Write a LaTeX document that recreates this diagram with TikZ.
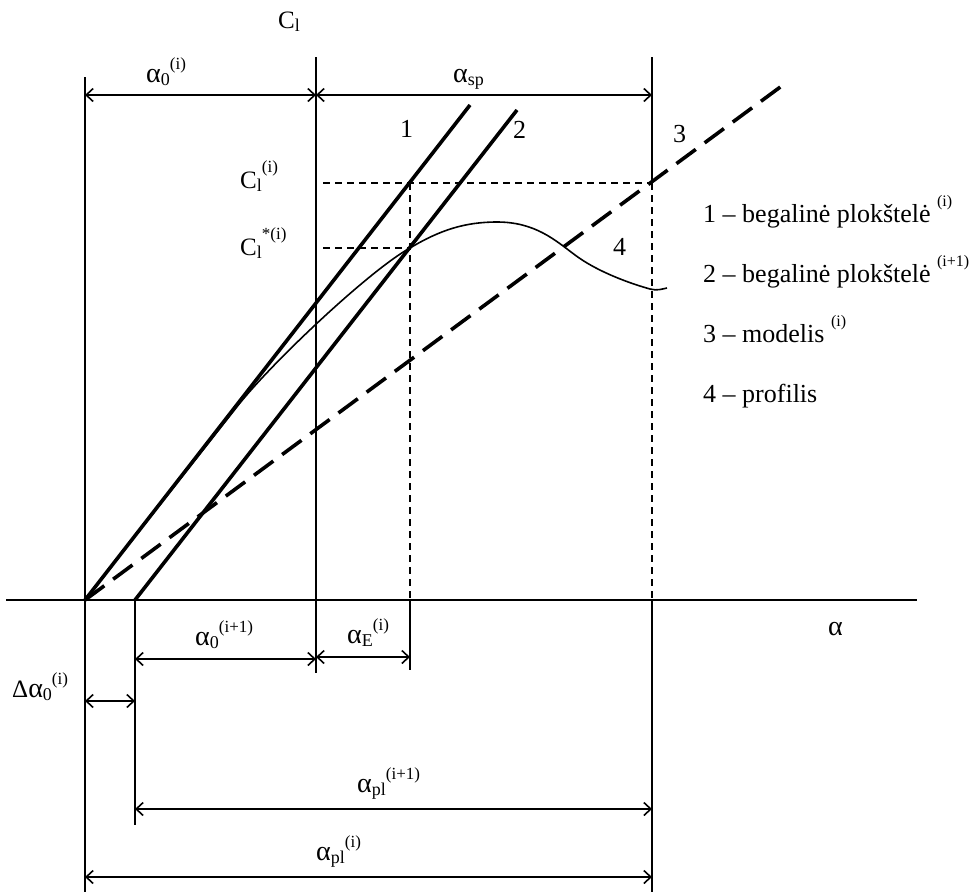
\documentclass[tikz,border=0pt]{standalone}
\usepackage{fontspec}
\setmainfont{Liberation Serif}
\usetikzlibrary{arrows.meta}
\newcommand\Al{{\fontsize{28}{28}\selectfont α}}
\newcommand\Sb[1]{\raisebox{-3.5pt}{\fontsize{18}{18}\selectfont #1}}
\newcommand\Sp[1]{\raisebox{13pt}{\fontsize{17}{17}\selectfont #1}}
\newcommand\CSp[1]{\raisebox{16pt}{\fontsize{17}{17}\selectfont #1}}
\newcommand\LSp[1]{\raisebox{0.6em}{\fontsize{16}{16}\selectfont #1}}
\begin{document}
\begin{tikzpicture}[x=1pt,y=-1pt,
  thinline/.style={line width=1.6pt},
  thickline/.style={line width=3.6pt},
  dim/.style={line width=1.6pt,{Straight Barb[length=7pt,width=13pt]}-{Straight Barb[length=7pt,width=13pt]}},
  guide/.style={line width=1.4pt,dash pattern=on 7pt off 5pt},
  model/.style={line width=3.6pt,dash pattern=on 24pt off 11pt},
  curveline/.style={line width=1.6pt},
  lbl/.style={font=\fontsize{25}{28}\selectfont, inner sep=0pt, anchor=base west},
  num/.style={font=\fontsize{26}{30}\selectfont, inner sep=0pt, anchor=base west},
]
\useasboundingbox (0,0) rectangle (979,895);
% coordinates
\coordinate (O) at (85,600);
\coordinate (O2) at (135,600);
\coordinate (axL) at (6,600);
\coordinate (axR) at (917,600);
\coordinate (v0t) at (85,77);
\coordinate (v0b) at (85,892);
\coordinate (v1t) at (316,57);
\coordinate (v1b) at (316,673);
\coordinate (v2t) at (652,57);
\coordinate (v2m) at (652,183);
\coordinate (v2a) at (652,600);
\coordinate (v2b) at (652,892);
\coordinate (vEt) at (410,183);
\coordinate (vEa) at (410,600);
\coordinate (vEb) at (410,670);
\coordinate (v3b) at (135,825);
\coordinate (l1) at (470,105);
\coordinate (l2) at (517,110);
\coordinate (l3) at (783,85);
\coordinate (hC) at (323,183);
\coordinate (hS) at (323,248);
\coordinate (pS) at (410,248);
% axes and verticals
\draw[thinline] (axL) -- (axR);
\draw[thinline] (v0t) -- (v0b);
\draw[thinline] (v1t) -- (v1b);
\draw[thinline] (v2t) -- (v2m);
\draw[guide] (v2m) -- (v2a);
\draw[thinline] (v2a) -- (v2b);
\draw[guide] (vEt) -- (vEa);
\draw[thinline] (vEa) -- (vEb);
\draw[thinline] (O2) -- (v3b);
\draw[guide] (hC) -- (v2m);
\draw[guide] (hS) -- (pS);
% lines 1,2,3
\draw[thickline] (O) -- (l1);
\draw[thickline] (O2) -- (l2);
\draw[model] (O) -- (l3);
% curve 4
\coordinate (c1) at (236,408);
\coordinate (cpk) at (497,222);
\coordinate (cin) at (575,255);
\coordinate (cmn) at (650,289);
\coordinate (cend) at (667,288);
\draw[curveline] (O) -- (c1)
  .. controls (270,364) and (370,270) .. (pS)
  .. controls (440,230) and (465,222) .. (cpk)
  .. controls (535,222) and (555,240) .. (cin)
  .. controls (595,270) and (625,282) .. (cmn)
  .. controls (657,291) and (662,289) .. (cend);
% dimension arrows
\coordinate (d1a) at (85,95); \coordinate (d1b) at (316,95); \coordinate (d1c) at (652,95);
\draw[dim] (d1a) -- (d1b);
\draw[dim] (d1b) -- (d1c);
\coordinate (d2a) at (135,659); \coordinate (d2b) at (316,659);
\draw[dim] (d2a) -- (d2b);
\coordinate (d3a) at (316,657); \coordinate (d3b) at (410,657);
\draw[dim] (d3a) -- (d3b);
\coordinate (d4a) at (85,701); \coordinate (d4b) at (135,701);
\draw[dim] (d4a) -- (d4b);
\coordinate (d5a) at (135,809); \coordinate (d5b) at (652,809);
\draw[dim] (d5a) -- (d5b);
\coordinate (d6a) at (85,877); \coordinate (d6b) at (652,877);
\draw[dim] (d6a) -- (d6b);
% labels
\node[lbl] (tCl) at (278,28) {C\Sb{l}};
\node[lbl] (ta0) at (146,82) {\Al\Sb{0}\Sp{(i)}};
\node[lbl] (tasp) at (453,82) {\Al\Sb{sp}};
\node[lbl] (tCi) at (240,188) {C\Sb{l}\CSp{(i)}};
\node[lbl] (tCs) at (240,255) {C\Sb{l}\CSp{*(i)}};
\node[lbl] (ta01) at (195,645) {\Al\Sb{0}\Sp{(i+1)}};
\node[lbl] (taE) at (347,643) {\Al\Sb{E}\Sp{(i)}};
\node[lbl] (tda) at (12,697) {Δ\Al\Sb{0}\Sp{(i)}};
\node[lbl] (tal) at (828,635) {\Al};
\node[lbl] (tpl1) at (357,792) {\Al\Sb{pl}\Sp{(i+1)}};
\node[lbl] (tpl) at (316,860) {\Al\Sb{pl}\Sp{(i)}};
\node[num] (n1) at (400,137) {1};
\node[num] (n2) at (513,138) {2};
\node[num] (n3) at (673,142) {3};
\node[num] (n4) at (613,255) {4};
% legend
\node[num] (lg1) at (703,222) {1 – begalinė plokštelė \LSp{(i)}};
\node[num] (lg2) at (703,282) {2 – begalinė plokštelė \LSp{(i+1)}};
\node[num] (lg3) at (703,342) {3 – modelis \LSp{(i)}};
\node[num] (lg4) at (703,402) {4 – profilis};
\end{tikzpicture}
\end{document}
